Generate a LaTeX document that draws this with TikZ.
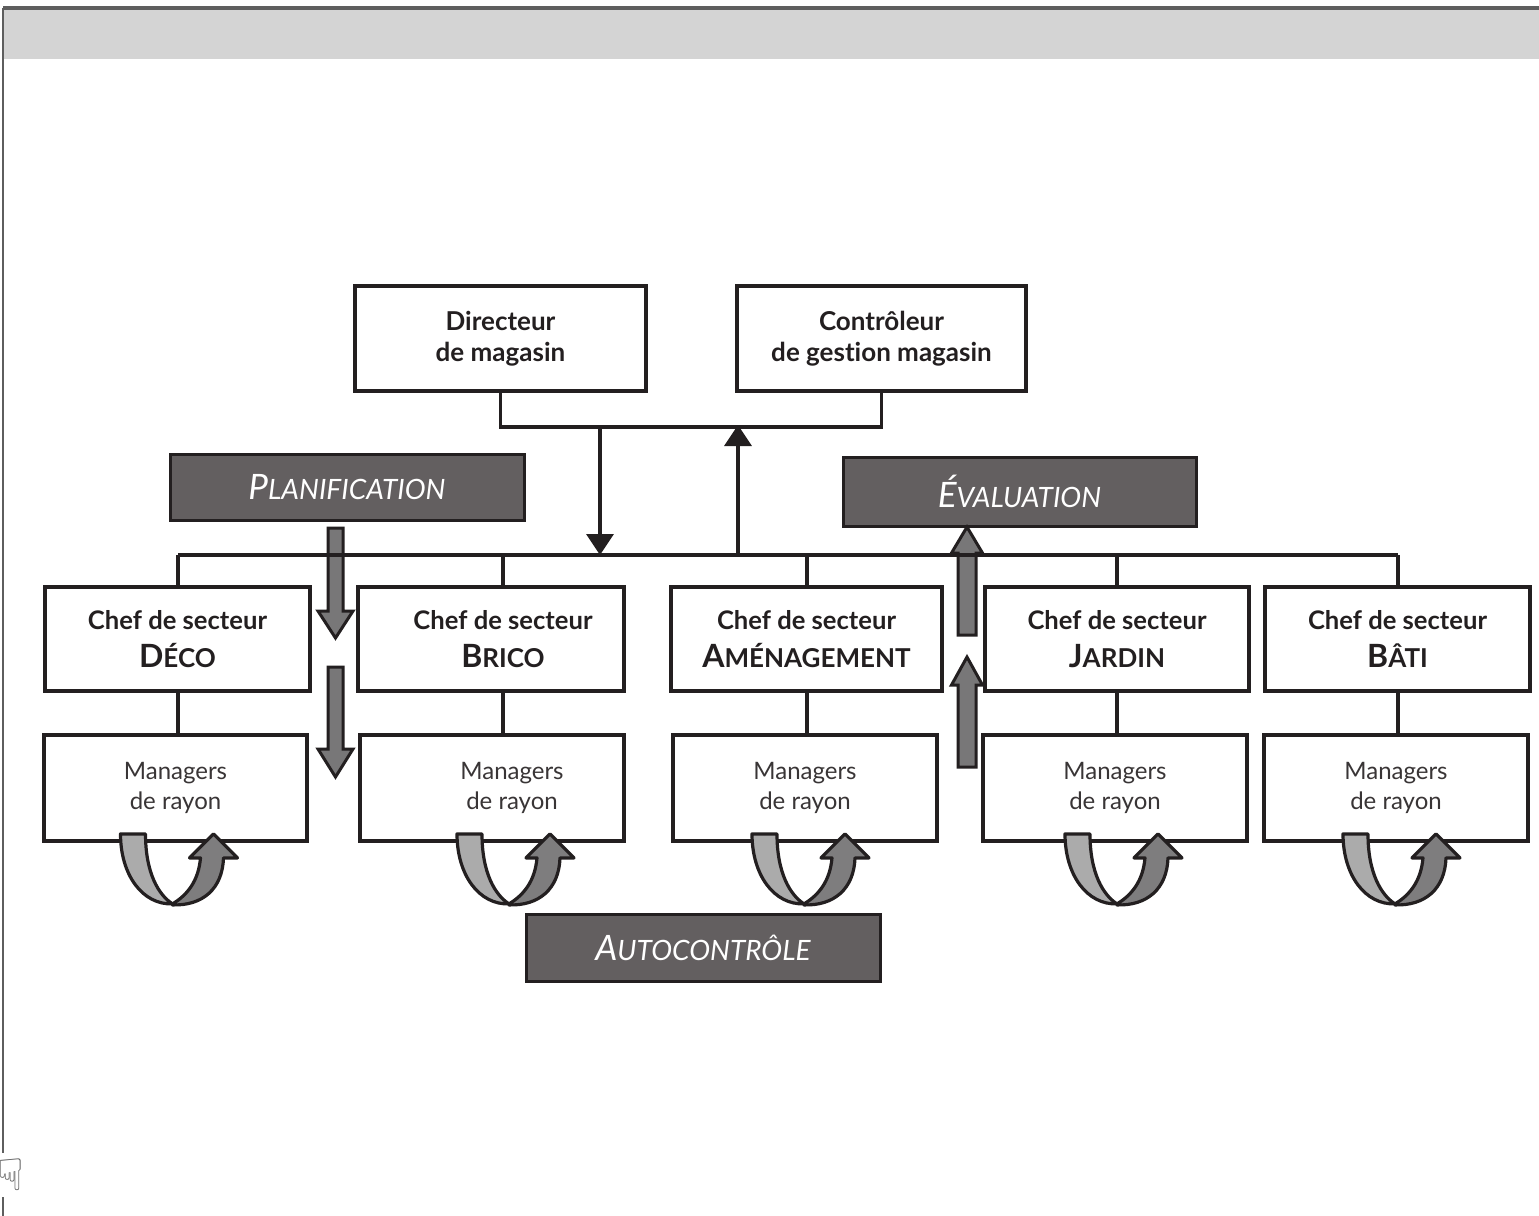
\documentclass[tikz,border=0pt]{standalone}
\usepackage{fontspec}
\setmainfont{Lato}[RawFeature=-liga]
\newfontfamily\symfont{DejaVu Sans}
\usetikzlibrary{arrows.meta}

\definecolor{ink}{HTML}{231F20}
\definecolor{band}{HTML}{D4D4D4}
\definecolor{framegray}{HTML}{5E5E5E}
\definecolor{phase}{HTML}{635F60}
\definecolor{blockgray}{HTML}{787778}
\definecolor{loopback}{HTML}{ABABAB}
\definecolor{loopfront}{HTML}{7E7D7E}

% letter-size pairs imitating small capitals
\newcommand\scb[2]{{\fontsize{16}{19}\selectfont #1}{\fontsize{13}{19}\selectfont #2}}
\newcommand\sci[2]{{\fontsize{17.5}{18}\selectfont #1}{\fontsize{14}{18}\selectfont #2}}

% block arrows: centre x, start, head base, tip
\newcommand\downblock[4]{%
  \draw[blockarrow] (#1-7.5,#2) -- (#1+7.5,#2) -- (#1+7.5,#3) -- (#1+17.5,#3)
    -- (#1,#4) -- (#1-17.5,#3) -- (#1-7.5,#3) -- cycle;}
\newcommand\upblock[4]{%
  \draw[blockarrow] (#1-9,#2) -- (#1+9,#2) -- (#1+9,#3) -- (#1+15.5,#3)
    -- (#1,#4) -- (#1-15.5,#3) -- (#1-9,#3) -- cycle;}

\tikzset{
  boxline/.style={draw=ink, line width=1.9pt, fill=white, inner sep=0pt, align=center, text=ink},
  headbox/.style={boxline, minimum height=52.5pt,
    font=\bfseries\fontsize{13}{15.5}\selectfont},
  chefbox/.style={boxline, minimum height=52pt,
    font=\bfseries\fontsize{12.8}{19}\selectfont},
  mgrbox/.style={boxline, minimum width=132pt, minimum height=53pt,
    font=\fontsize{12}{15}\selectfont, text=ink!90},
  phasebox/.style={draw=ink, line width=1.5pt, fill=phase, text=white,
    minimum width=177pt, inner sep=0pt, font=\itshape},
  link/.style={draw=ink, line width=1.7pt},
  flow/.style={link, -{Triangle[width=13.5pt,length=10.5pt]}},
  blockarrow/.style={draw=ink, line width=1.5pt, fill=blockgray, line join=miter},
  looppart/.style={draw=ink, line width=1.6pt, line join=round},
  cyclearrow/.pic={
    \draw[looppart, fill=loopback] (-55,-9) -- (-30,-9)
      .. controls (-30,30) and (-17,52) .. (-3,61)
      .. controls (-33,62) and (-55,32) .. (-55,-9) -- cycle;
    \draw[looppart, fill=loopfront] (-3,61)
      .. controls (12,52) and (23,38) .. (25,15) -- (14,15) -- (38,-9)
      -- (62,15) -- (48,15) .. controls (47,46) and (27,63) .. (-3,62) -- cycle;
  }
}

\begin{document}
\begin{tikzpicture}[x=0.5pt,y=-0.5pt]
\useasboundingbox (0,0) rectangle (1539,1216);

% page frame and title band
\fill[band] (3,9) rectangle (1539,59);
\draw[framegray, line width=1.8pt] (3,8) -- (1539,8);
\draw[framegray, line width=1.1pt] (3,8) -- (3,1153);
\draw[framegray, line width=1.1pt] (3,1197) -- (3,1216);
\node[font=\symfont\fontsize{22}{22}\selectfont, text=framegray, inner sep=0pt] (hand) at (11,1175) {☟};

% phase labels
\node[phasebox, minimum height=33pt] (plan) at (347,487) {\sci{P}{LANIFICATION}};
\node[phasebox, minimum width=176.5pt, minimum height=34.5pt] (eval) at (1019.5,491.5) {\sci{É}{VALUATION}};
\node[phasebox, minimum height=33.5pt] (auto) at (703,947.5) {\sci{A}{UTOCONTRÔLE}};

% planning and evaluation flows
\downblock{335.5}{528}{611}{638}
\downblock{335.5}{667}{749}{777}
\upblock{967}{635}{553}{527}
\upblock{967}{767}{685}{657}

% top management
\node[headbox, minimum width=145.5pt] (dir) at (500.5,338.5) {Directeur\\de magasin};
\node[headbox, minimum width=144.5pt] (ctrl) at (881.5,338.5) {Contrôleur\\de gestion magasin};

% sector heads
\node[chefbox, minimum width=132.5pt] (c1) at (177.5,639) {Chef de secteur\\\scb{D}{ÉCO}};
\node[chefbox, minimum width=133pt]   (c2) at (491,639)   {\hspace*{12pt}Chef de secteur\\\hspace*{12pt}\scb{B}{RICO}};
\node[chefbox, minimum width=135.5pt] (c3) at (806.5,639) {Chef de secteur\\\scb{A}{MÉNAGEMENT}};
\node[chefbox, minimum width=132pt]   (c4) at (1117,639)  {Chef de secteur\\\scb{J}{ARDIN}};
\node[chefbox, minimum width=132.5pt] (c5) at (1397.5,639) {Chef de secteur\\\scb{B}{ÂTI}};

% department managers
\node[mgrbox, minimum width=131.5pt] (m1) at (175.5,788) {Managers\\de rayon};
\node[mgrbox] (m2) at (492,788)  {\hspace*{20pt}Managers\\\hspace*{20pt}de rayon};
\node[mgrbox] (m3) at (805,788)  {Managers\\de rayon};
\node[mgrbox] (m4) at (1115,788) {Managers\\de rayon};
\node[mgrbox] (m5) at (1396,788) {Managers\\de rayon};

% branch points on the sector bus
\coordinate (b1) at (178,555);
\coordinate (b2) at (503,555);
\coordinate (b3) at (807,555);
\coordinate (b4) at (1117,555);
\coordinate (b5) at (1398,555);
\coordinate (down) at (600,555);
\coordinate (up) at (738,555);
\coordinate (split) at (600,425);
\coordinate (join) at (738,425);

% management link and the two directions of exchange
\draw[link] (dir.south) -- ++(0,34) -| (ctrl.south);
\draw[flow] (split) -- (down);
\draw[flow] (up) -- (join);

% sector bus and drops
\draw[link] (b1) -- (b5);
\foreach \b/\c/\m in {b1/c1/m1, b2/c2/m2, b3/c3/m3, b4/c4/m4, b5/c5/m5} {
  \draw[link] (\b) -- (\b |- \c.north);
  \draw[link] (\b |- \c.south) -- (\b |- \m.north);
}

% self-control loops
\pic at (m1.south) {cyclearrow};
\pic at ([xshift=10pt]m2.south) {cyclearrow};
\pic at ([xshift=1pt]m3.south) {cyclearrow};
\pic at ([xshift=2.5pt]m4.south) {cyclearrow};
\pic at ([xshift=1pt]m5.south) {cyclearrow};
\end{tikzpicture}
\end{document}
